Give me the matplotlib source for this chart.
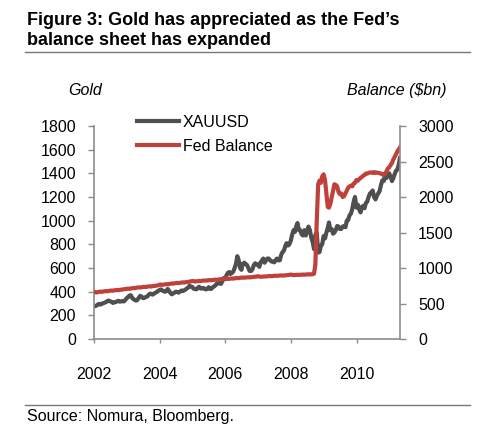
import matplotlib
matplotlib.use("Agg")
import matplotlib.pyplot as plt
import pandas as pd

plt.rcParams['font.family'] = ['Liberation Sans', 'DejaVu Sans']

# semi-monthly observations, Jan 2002 .. Apr 2011
gold = [
    # 2002
    279, 283, 293, 297, 291, 300, 302, 308, 312, 322, 325, 318,
    315, 305, 310, 313, 318, 323, 316, 318, 320, 318, 330, 345,
    # 2003
    355, 368, 370, 350, 338, 330, 325, 331, 350, 365, 358, 346,
    347, 355, 358, 372, 383, 382, 375, 384, 390, 397, 406, 414,
    # 2004
    420, 410, 405, 400, 405, 423, 408, 390, 378, 385, 392, 400,
    397, 392, 400, 410, 405, 412, 418, 428, 435, 450, 443, 440,
    # 2005
    425, 422, 420, 432, 442, 428, 426, 432, 425, 419, 425, 438,
    423, 425, 438, 445, 455, 470, 470, 473, 466, 492, 515, 505,
    # 2006
    540, 560, 566, 550, 558, 570, 600, 635, 700, 665, 600, 585,
    635, 645, 635, 625, 600, 575, 575, 590, 625, 640, 630, 630,
    # 2007
    610, 650, 665, 680, 645, 665, 680, 680, 665, 655, 655, 648,
    665, 680, 665, 665, 710, 735, 745, 785, 810, 790, 800, 830,
    # 2008
    880, 920, 905, 950, 980, 920, 920, 885, 875, 920, 875, 910,
    950, 920, 860, 820, 760, 880, 900, 730, 735, 790, 800, 870,
    # 2009
    850, 900, 940, 985, 920, 930, 890, 900, 920, 955, 950, 930,
    930, 950, 955, 945, 1000, 1005, 1045, 1060, 1100, 1160, 1200, 1110,
    # 2010
    1135, 1095, 1070, 1115, 1125, 1105, 1150, 1160, 1200, 1230, 1240, 1255,
    1200, 1180, 1210, 1230, 1250, 1300, 1340, 1335, 1390, 1360, 1390, 1400,
    # 2011
    1370, 1335, 1360, 1390, 1420, 1430, 1470, 1530,
]

fed_balance = [
    # 2002
    660, 655, 662, 665, 668, 664, 670, 672, 675, 672, 678, 680,
    683, 680, 686, 688, 690, 687, 692, 695, 698, 700, 705, 708,
    # 2003
    710, 706, 712, 715, 718, 716, 722, 725, 728, 726, 730, 733,
    735, 732, 738, 740, 742, 740, 745, 748, 750, 752, 758, 765,
    # 2004
    768, 762, 766, 770, 772, 770, 775, 778, 782, 780, 785, 788,
    790, 788, 792, 795, 798, 796, 800, 802, 805, 808, 812, 818,
    # 2005
    815, 810, 812, 815, 818, 816, 820, 822, 825, 822, 826, 828,
    830, 828, 832, 835, 836, 834, 838, 840, 842, 845, 848, 855,
    # 2006
    850, 846, 848, 850, 853, 851, 855, 857, 860, 858, 862, 864,
    866, 864, 866, 868, 870, 868, 871, 873, 875, 877, 880, 885,
    # 2007
    880, 876, 878, 880, 882, 880, 884, 886, 888, 885, 888, 890,
    892, 890, 892, 895, 896, 893, 895, 897, 898, 900, 903, 908,
    # 2008
    905, 900, 902, 904, 905, 903, 906, 905, 908, 906, 908, 910,
    912, 910, 911, 913, 920, 1050, 1650, 2180, 2230, 2200, 2290, 2320,
    # 2009
    2240, 2050, 1860, 1850, 1900, 2000, 2100, 2180, 2170, 2150, 2070, 2040,
    2050, 2000, 2010, 2050, 2090, 2130, 2150, 2160, 2150, 2190, 2200, 2240,
    # 2010
    2230, 2250, 2270, 2280, 2300, 2310, 2330, 2330, 2340, 2345, 2345, 2340,
    2350, 2340, 2345, 2340, 2335, 2330, 2320, 2310, 2325, 2360, 2400, 2420,
    # 2011
    2450, 2480, 2530, 2560, 2600, 2640, 2670, 2700,
]

year_ticks = [2002, 2004, 2006, 2008, 2010]
gold_ticks = [0, 200, 400, 600, 800, 1000, 1200, 1400, 1600, 1800]
bal_ticks = [0, 500, 1000, 1500, 2000, 2500, 3000]

# observation dates: mid and end of each month
dates = []
for y in range(2002, 2012):
    for m in range(1, 13):
        dates.append(pd.Timestamp(y, m, 15))
        dates.append(pd.Timestamp(y, m, 1) + pd.offsets.MonthEnd(0))
dates = dates[:len(gold)]

GRAY = '#4f4f4f'
RED = '#c0403a'
SPINE = '#8c8c8c'
FS = 11.5

fig = plt.figure(figsize=(5.0, 4.33), dpi=100)
ax = fig.add_axes([0.188, 0.217, 0.612, 0.492])
ax2 = ax.twinx()

l1, = ax.plot(dates, gold, color=GRAY, lw=3.0, label='XAUUSD')
l2, = ax2.plot(dates, fed_balance, color=RED, lw=3.0, label='Fed Balance')

ax.set_ylim(0, 1800)
ax2.set_ylim(0, 3000)
ax.set_yticks(gold_ticks)
ax2.set_yticks(bal_ticks)
ax.set_xlim(pd.Timestamp(2002, 1, 1), pd.Timestamp(2011, 4, 30))
ax.set_xticks([pd.Timestamp(y, 1, 1) for y in year_ticks])
ax.set_xticklabels([str(y) for y in year_ticks])

for a in (ax, ax2):
    for s in a.spines.values():
        s.set_visible(False)
ax.spines['left'].set_visible(True)
ax.spines['bottom'].set_visible(True)
ax2.spines['right'].set_visible(True)
for s in (ax.spines['left'], ax.spines['bottom'], ax2.spines['right']):
    s.set_color(SPINE)
    s.set_linewidth(1.2)

ax.tick_params(axis='y', direction='out', length=4, width=1, color=SPINE,
               labelsize=FS, pad=9, labelcolor='black')
ax.tick_params(axis='x', direction='out', length=3, width=1, color=SPINE,
               labelsize=FS, pad=17, labelcolor='black')
ax2.tick_params(axis='y', direction='out', length=4, width=1, color=SPINE,
                labelsize=FS, pad=9, labelcolor='black')

fig.text(0.17, 0.792, 'Gold', fontsize=FS, style='italic', ha='center', va='center')
fig.text(0.794, 0.792, 'Balance ($bn)', fontsize=FS, style='italic', ha='center', va='center')

leg = ax2.legend(handles=[l1, l2], loc='upper left', bbox_to_anchor=(0.274, 0.735),
                 bbox_transform=fig.transFigure, frameon=False, fontsize=FS,
                 borderpad=0, borderaxespad=0, handlelength=2.6, handletextpad=0.25,
                 labelspacing=0.55)

fig.text(0.054, 0.953, "Figure 3: Gold has appreciated as the Fed\u2019s",
         fontsize=13, fontweight='bold', ha='left', va='center')
fig.text(0.054, 0.907, "balance sheet has expanded",
         fontsize=13, fontweight='bold', ha='left', va='center')
fig.add_artist(plt.Line2D([0.05, 0.94], [0.880, 0.880], transform=fig.transFigure,
                          color='#777777', lw=1.0))
fig.add_artist(plt.Line2D([0.05, 0.94], [0.065, 0.065], transform=fig.transFigure,
                          color='#777777', lw=1.0))
fig.text(0.054, 0.038, 'Source: Nomura, Bloomberg.', fontsize=FS, ha='left', va='center')

fig.savefig('out.png', dpi=100)
